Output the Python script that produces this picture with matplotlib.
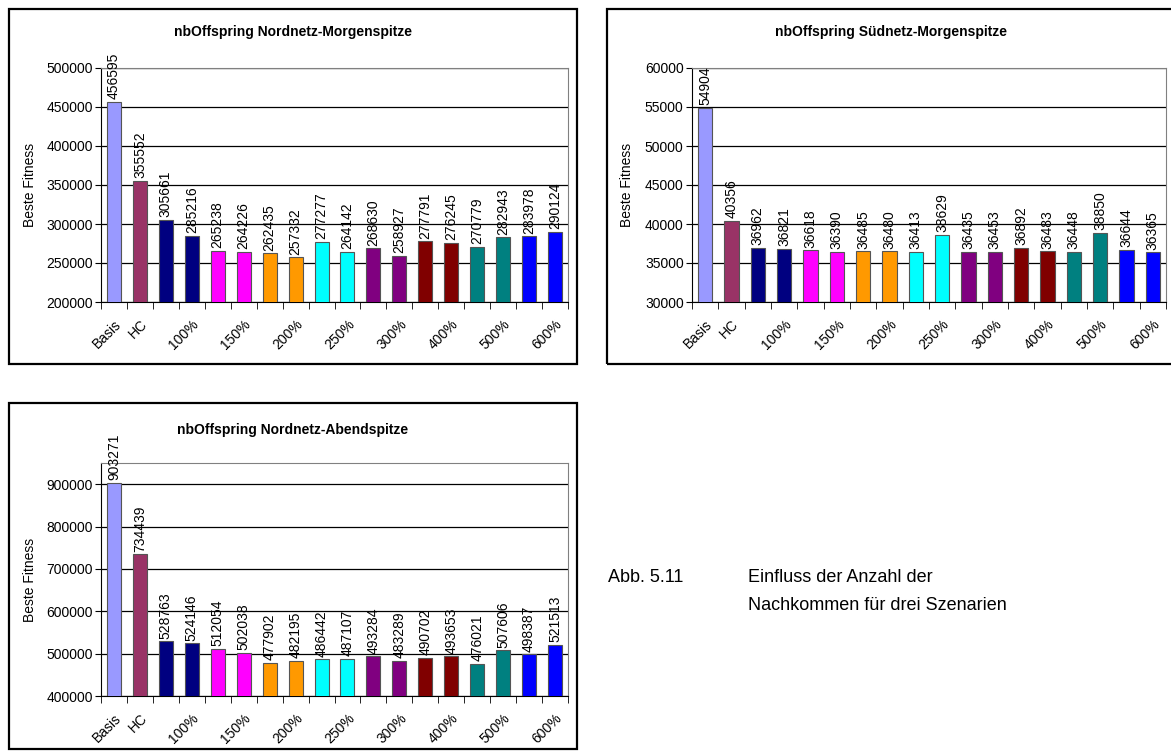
import matplotlib
matplotlib.use("Agg")
import matplotlib.pyplot as plt
import matplotlib.transforms as mtransforms
from matplotlib.patches import Rectangle

plt.rcParams['font.family'] = ['Liberation Sans', 'DejaVu Sans']

# categories and labels (label shown on every other bar after HC)
categories = ["Basis", "HC", "100%", "100%", "150%", "150%", "200%", "200%",
              "250%", "250%", "300%", "300%", "400%", "400%", "500%", "500%",
              "600%", "600%"]
label_pos = [0, 1, 3, 5, 7, 9, 11, 13, 15, 17]
label_txt = ["Basis", "HC", "100%", "150%", "200%", "250%", "300%", "400%", "500%", "600%"]

colors = ["#9999FF", "#993366", "#000080", "#000080", "#FF00FF", "#FF00FF",
          "#FF9900", "#FF9900", "#00FFFF", "#00FFFF", "#800080", "#800080",
          "#800000", "#800000", "#008080", "#008080", "#0000FF", "#0000FF"]

nord_morgen = [456595, 355552, 305661, 285216, 265238, 264226, 262435, 257332,
               277277, 264142, 268630, 258927, 277791, 276245, 270779, 282943,
               283978, 290124]
sued_morgen = [54904, 40356, 36962, 36821, 36618, 36390, 36485, 36480, 36413,
               38629, 36435, 36453, 36892, 36483, 36448, 38850, 36644, 36365]
nord_abend = [903271, 734439, 528763, 524146, 512054, 502038, 477902, 482195,
              486442, 487107, 493284, 483289, 490702, 493653, 476021, 507606,
              498387, 521513]

W, H = 1171, 753
fig = plt.figure(figsize=(W / 100, H / 100), dpi=100)


def px_axes(x0, y0, x1, y1):
    return fig.add_axes([x0 / W, 1 - y1 / H, (x1 - x0) / W, (y1 - y0) / H])


def frame(x0, y0, x1, y1):
    fig.patches.append(Rectangle((x0 / W, 1 - y1 / H), (x1 - x0) / W, (y1 - y0) / H,
                                 transform=fig.transFigure, fill=False,
                                 edgecolor="black", linewidth=1.6))


def panel(ax, values, title, ylim, yticks, title_xy, ylabel_x):
    x = list(range(len(values)))
    ax.bar(x, values, width=0.54, color=colors, edgecolor="#555555",
           linewidth=0.8, zorder=3)
    ax.set_xlim(-0.5, len(values) - 0.5)
    ax.set_ylim(*ylim)
    ax.set_yticks(yticks)
    ax.yaxis.grid(True, color="black", linewidth=0.9, zorder=0)
    ax.tick_params(axis="y", labelsize=10, length=4, direction="out", pad=2)
    ax.set_xticks([i + 0.5 for i in range(-1, len(values))], minor=True)
    ax.set_xticks(label_pos)
    ax.set_xticklabels(label_txt, rotation=45, ha="right", va="top",
                       rotation_mode="anchor", fontsize=10)
    shift = mtransforms.ScaledTranslation(-4 / 100, 0, fig.dpi_scale_trans)
    for lbl in ax.get_xticklabels():
        lbl.set_transform(lbl.get_transform() + shift)
    ax.tick_params(axis="x", which="major", length=0, pad=11)
    ax.tick_params(axis="x", which="minor", length=5, direction="out")
    for s in ("top", "right"):
        ax.spines[s].set_color("#808080")
    for s in ("left", "bottom"):
        ax.spines[s].set_color("black")
    for i, v in enumerate(values):
        ax.annotate(str(v), (i, v), xytext=(0, 2), textcoords="offset points",
                    rotation=90, ha="center", va="bottom", fontsize=10,
                    annotation_clip=False, zorder=4)
    fig.text(title_xy[0] / W, 1 - title_xy[1] / H, title, ha="center", va="center",
             fontsize=10, fontweight="bold")
    pos = ax.get_position()
    fig.text(ylabel_x / W, (pos.y0 + pos.y1) / 2, "Beste Fitness",
             rotation=90, ha="center", va="center", fontsize=10)


# panel 1
frame(9, 9, 577, 364)
ax1 = px_axes(101, 68, 568, 302)
panel(ax1, nord_morgen, "nbOffspring Nordnetz-Morgenspitze",
      (200000, 500000), range(200000, 500001, 50000), (293, 32), 30)

# panel 2
frame(607, 9, 1180, 364)
ax2 = px_axes(692, 68, 1166, 302)
panel(ax2, sued_morgen, "nbOffspring Südnetz-Morgenspitze",
      (30000, 60000), range(30000, 60001, 5000), (891, 32), 627)

# panel 3
frame(9, 403, 577, 749)
ax3 = px_axes(101, 463, 568, 696)
panel(ax3, nord_abend, "nbOffspring Nordnetz-Abendspitze",
      (400000, 950000), range(400000, 900001, 100000), (293, 430), 30)

# caption
fig.text(608 / W, 1 - 578 / H, "Abb. 5.11", ha="left", va="center", fontsize=13)
fig.text(748 / W, 1 - 578 / H, "Einfluss der Anzahl der", ha="left", va="center",
         fontsize=13)
fig.text(748 / W, 1 - 606 / H, "Nachkommen für drei Szenarien", ha="left",
         va="center", fontsize=13)

fig.savefig("out.png", dpi=100)
